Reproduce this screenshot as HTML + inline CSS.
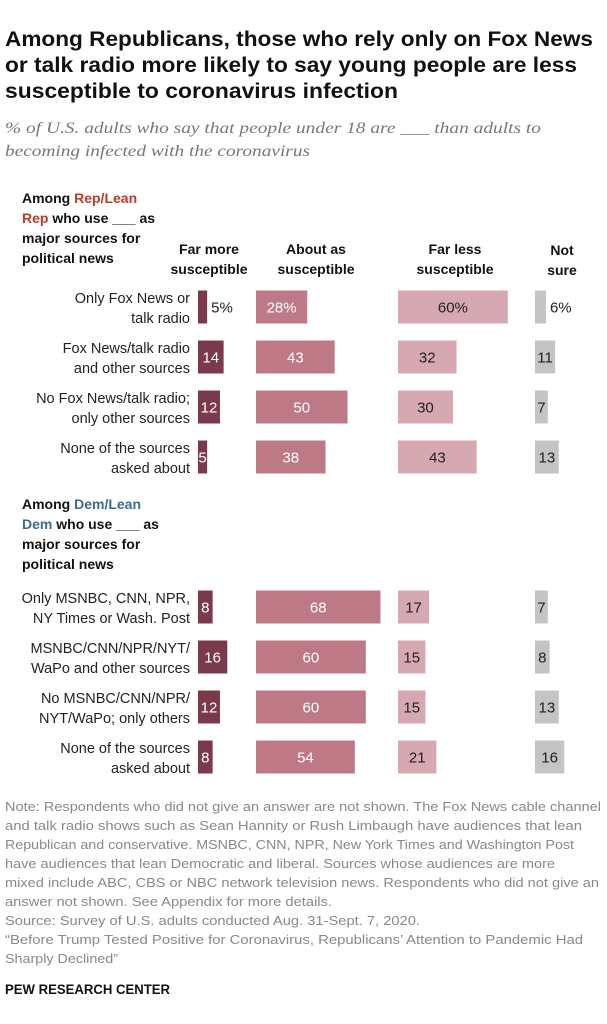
<!DOCTYPE html>
<html><head><meta charset="utf-8"><style>
body{margin:0;background:#fff}
svg{display:block;font-family:"Liberation Sans",Arial,sans-serif}
</style></head><body>
<svg id="c" width="607" height="1024" viewBox="0 0 607 1024">
<g font-weight="bold" font-size="21.5" fill="#111">
<text x="5" y="46" textLength="588" lengthAdjust="spacingAndGlyphs">Among Republicans, those who rely only on Fox News</text>
<text x="5" y="72" textLength="572" lengthAdjust="spacingAndGlyphs">or talk radio more likely to say young people are less</text>
<text x="5" y="98" textLength="393" lengthAdjust="spacingAndGlyphs">susceptible to coronavirus infection</text>
</g>
<g font-family="Liberation Serif,serif" font-style="italic" font-size="15.5" fill="#777">
<text x="5" y="133" textLength="536" lengthAdjust="spacingAndGlyphs">% of U.S. adults who say that people under 18 are ___ than adults to</text>
<text x="5" y="156" textLength="305" lengthAdjust="spacingAndGlyphs">becoming infected with the coronavirus</text>
</g>
<g font-weight="bold" font-size="14" fill="#111">
<text x="22" y="203"><tspan>Among </tspan><tspan fill="#c0392b">Rep/Lean</tspan></text>
<text x="22" y="223"><tspan fill="#c0392b">Rep</tspan> who use ___ as</text>
<text x="22" y="243">major sources for</text>
<text x="22" y="263">political news</text>
</g>
<g font-weight="bold" font-size="14" fill="#111">
<text x="22" y="509"><tspan>Among </tspan><tspan fill="#3d6a8f">Dem/Lean</tspan></text>
<text x="22" y="529"><tspan fill="#3d6a8f">Dem</tspan> who use ___ as</text>
<text x="22" y="549">major sources for</text>
<text x="22" y="569">political news</text>
</g>
<g font-weight="bold" font-size="14" fill="#111" text-anchor="middle">
<text x="209" y="254">Far more</text><text x="209" y="274">susceptible</text>
<text x="316" y="254">About as</text><text x="316" y="274">susceptible</text>
<text x="455" y="254">Far less</text><text x="455" y="274">susceptible</text>
<text x="562" y="255">Not</text><text x="562" y="275">sure</text>
</g>
<g id="bars"></g>
<g font-size="12.6" fill="#888">
<text x="5" y="811" textLength="596" lengthAdjust="spacingAndGlyphs">Note: Respondents who did not give an answer are not shown. The Fox News cable channel</text>
<text x="5" y="830" textLength="577" lengthAdjust="spacingAndGlyphs">and talk radio shows such as Sean Hannity or Rush Limbaugh have audiences that lean</text>
<text x="5" y="849" textLength="569" lengthAdjust="spacingAndGlyphs">Republican and conservative. MSNBC, CNN, NPR, New York Times and Washington Post</text>
<text x="5" y="868" textLength="550" lengthAdjust="spacingAndGlyphs">have audiences that lean Democratic and liberal. Sources whose audiences are more</text>
<text x="5" y="887" textLength="594" lengthAdjust="spacingAndGlyphs">mixed include ABC, CBS or NBC network television news. Respondents who did not give an</text>
<text x="5" y="906" textLength="327" lengthAdjust="spacingAndGlyphs">answer not shown. See Appendix for more details.</text>
<text x="5" y="925" textLength="415" lengthAdjust="spacingAndGlyphs">Source: Survey of U.S. adults conducted Aug. 31-Sept. 7, 2020.</text>
<text x="5" y="944" textLength="578" lengthAdjust="spacingAndGlyphs">“Before Trump Tested Positive for Coronavirus, Republicans’ Attention to Pandemic Had</text>
<text x="5" y="963" textLength="113" lengthAdjust="spacingAndGlyphs">Sharply Declined”</text>
</g>
<text x="5" y="994" font-weight="bold" font-size="13.5" fill="#111" textLength="165" lengthAdjust="spacingAndGlyphs">PEW RESEARCH CENTER</text>
</svg>
<script>
const categories = [
 ["Only Fox News or","talk radio"],
 ["Fox News/talk radio","and other sources"],
 ["No Fox News/talk radio;","only other sources"],
 ["None of the sources","asked about"],
 ["Only MSNBC, CNN, NPR,","NY Times or Wash. Post"],
 ["MSNBC/CNN/NPR/NYT/","WaPo and other sources"],
 ["No MSNBC/CNN/NPR/","NYT/WaPo; only others"],
 ["None of the sources","asked about"]
];
const farMore = [5,14,12,5,8,16,12,8];
const aboutAs = [28,43,50,38,68,60,60,54];
const farLess = [60,32,30,43,17,15,15,21];
const notSure = [6,11,7,13,7,8,13,16];
const seriesNames = ["far-more","about-as","far-less","not-sure"];

const NS="http://www.w3.org/2000/svg";
const g=document.getElementById('bars');
const k=1.83, barH=33;
const colX=[198,256,398,535];
const colors=["#7b3a4b","#bd7a86","#d6a8b1","#c4c4c4"];
const txtCol=["#fff","#fff","#222","#222"];
const rowY=i=> i<4 ? 307+50*i : 607+50*(i-4);
function mk(t,a){const e=document.createElementNS(NS,t);for(const n in a)e.setAttribute(n,a[n]);g.appendChild(e);return e;}
const series=[farMore,aboutAs,farLess,notSure];
categories.forEach((c,i)=>{
  const cy=rowY(i);
  const l1=mk('text',{x:190,y:cy-4,'font-size':14.5,fill:'#222','text-anchor':'end'});l1.textContent=c[0];
  
  
  const l2=mk('text',{x:190,y:cy+16,'font-size':14.5,fill:'#222','text-anchor':'end'});l2.textContent=c[1];
  
  
  series.forEach((s,j)=>{
    const v=s[i], w=v*k, x=colX[j];
    const r=mk('rect',{x:x,y:cy-barH/2,width:w,height:barH,fill:colors[j]});
    
    
    const lab=(i===0)?v+'%':String(v);
    let tx,anchor,fill;
    if(j===1||j===2){ tx=x+w/2; anchor='middle'; fill=txtCol[j]; }
    else if(i===0){ tx=x+w+4; anchor='start'; fill='#222'; }
    else if(w>=lab.length*9){ tx=x+w/2; anchor='middle'; fill=txtCol[j]; }
    else { tx=x+1; anchor='start'; fill=txtCol[j]; }
    const t=mk('text',{x:tx,y:cy+5.5,'font-size':15,fill:fill,'text-anchor':anchor});
    t.textContent=lab;
    
    
  });
});
</script>
</body></html>
